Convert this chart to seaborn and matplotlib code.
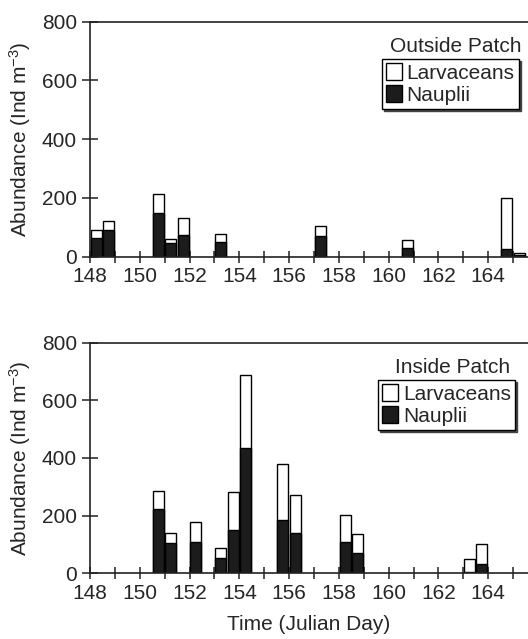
import matplotlib
matplotlib.use("Agg")
import matplotlib.pyplot as plt
from matplotlib.patches import Patch
import numpy as np
import pandas as pd
import seaborn as sns

# ---------------------------------------------------------------------------
# Data
# ---------------------------------------------------------------------------

out_days       = [148.25, 148.75, 150.75, 151.25, 151.75, 153.25, 157.25, 160.75, 164.75, 165.25]
out_larvaceans = [28, 30, 62, 14, 60, 25, 37, 27, 174, 9]
out_nauplii    = [62, 92, 150, 45, 73, 51, 69, 31, 26, 5]

in_days        = [150.75, 151.25, 152.25, 153.25, 153.75, 154.25,
                  155.75, 156.25, 158.25, 158.75, 163.25, 163.75]
in_larvaceans  = [61, 37, 68, 35, 132, 252, 196, 132, 93, 66, 44, 70]
in_nauplii     = [223, 104, 109, 54, 149, 435, 184, 139, 108, 69, 5, 31]

day_ticks   = list(range(148, 166))
y_ticks     = [0, 200, 400, 600, 800]
panel_names = ["Outside Patch", "Inside Patch"]

# ---------------------------------------------------------------------------
# Style
# ---------------------------------------------------------------------------

sns.set_style("ticks")
plt.rcParams["font.family"] = ["Liberation Sans", "DejaVu Sans"]
plt.rcParams["mathtext.default"] = "regular"
plt.rcParams["font.size"] = 15

FS = 15

fig = plt.figure(figsize=(5.28, 6.39), dpi=100)
ax_top = fig.add_axes([0.1705, 0.5983, 0.8295, 0.3678])
ax_bot = fig.add_axes([0.1705, 0.1028, 0.8295, 0.3610])


def _draw_panel(ax, days, larv, naup, title, legend_xy):
    df = pd.DataFrame({"day": days, "larv": larv, "naup": naup})
    df["total"] = df["larv"] + df["naup"]

    # larvaceans stacked on top of nauplii -> draw total first in white
    sns.barplot(data=df, x="day", y="total", native_scale=True, width=0.88,
                color="white", edgecolor="black", linewidth=1.0,
                saturation=1, errorbar=None, ax=ax)
    sns.barplot(data=df, x="day", y="naup", native_scale=True, width=0.88,
                color="#1c1c1c", edgecolor="black", linewidth=1.0,
                saturation=1, errorbar=None, ax=ax)

    ax.set_xlim(148, 165.6)
    ax.set_ylim(0, 800)
    ax.set_xticks(day_ticks)
    ax.set_xticklabels([str(d) if d % 2 == 0 else "" for d in day_ticks])
    ax.set_yticks(y_ticks)
    ax.set_yticklabels([str(v) for v in y_ticks])
    ax.tick_params(axis="x", direction="inout", length=9, width=1.1,
                   pad=3, labelsize=FS, color="#222222")
    ax.tick_params(axis="y", direction="inout", length=11, width=1.1,
                   pad=4, labelsize=FS, color="#222222")
    ax.set_xlabel("")
    ax.set_ylabel("Abundance (Ind m$^{-3}$)", fontsize=FS, labelpad=6)

    for side in ("left", "bottom", "top"):
        ax.spines[side].set_linewidth(1.2)
        ax.spines[side].set_color("#222222")
    ax.spines["right"].set_visible(False)

    ax.text(legend_xy[0] + 0.17, legend_xy[1] + 0.055, title, transform=ax.transAxes,
            ha="center", va="center", fontsize=FS)

    handles = [
        Patch(facecolor="white", edgecolor="black", linewidth=1.0, label="Larvaceans"),
        Patch(facecolor="#1c1c1c", edgecolor="black", linewidth=1.0, label="Nauplii"),
    ]
    leg = ax.legend(handles=handles, loc="upper left", bbox_to_anchor=legend_xy,
                    fontsize=FS, frameon=True, fancybox=False,
                    shadow={"ox": 1.5, "oy": -1.5, "color": "#444444", "alpha": 1},
                    handlelength=0.75, handleheight=0.9, handletextpad=0.25,
                    borderpad=0.2, labelspacing=0.1, borderaxespad=0)
    leg.get_frame().set_edgecolor("black")
    leg.get_frame().set_linewidth(1.0)
    leg.get_frame().set_alpha(1)


_draw_panel(ax_top, out_days, out_larvaceans, out_nauplii, panel_names[0], (0.666, 0.841))
_draw_panel(ax_bot, in_days, in_larvaceans, in_nauplii, panel_names[1], (0.658, 0.838))

ax_bot.set_xlabel("Time (Julian Day)", fontsize=FS, labelpad=9)

fig.savefig("out.png", dpi=100)
plt.close(fig)
